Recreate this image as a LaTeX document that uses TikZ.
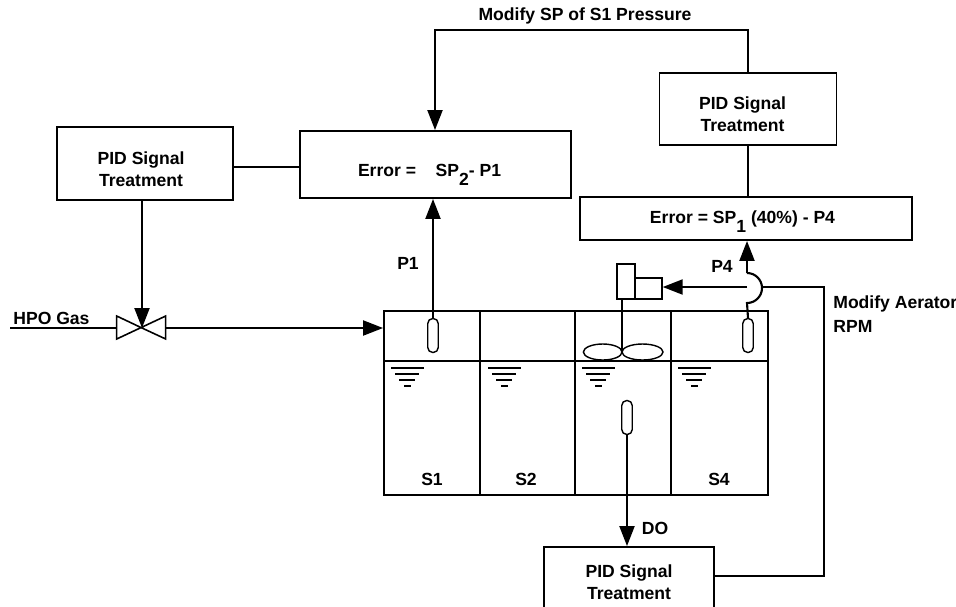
\documentclass[tikz,border=0pt]{standalone}
\usepackage{fontspec}
\setmainfont{Liberation Sans}
\usetikzlibrary{calc}
\usetikzlibrary{arrows.meta, shapes}

\newcommand{\offtext}[3]{\raisebox{#2}[\height][\depth]{#3}\hspace*{#1}}
\newcommand{\pidtext}{\renewcommand{\arraystretch}{1.04}\begin{tabular}{@{}c@{}}PID Signal\\Treatment\end{tabular}}
\newcommand{\lowsub}[1]{\smash{\raisebox{-5pt}{#1}}}

\begin{document}
\begin{tikzpicture}[x = 0.02cm, y = -0.02cm]

\tikzstyle{box}=[rectangle, draw, line width = 1.1, align = center, font = \bfseries, inner sep = 0]
\tikzstyle{label_b}=[font = \bfseries, inner sep = 0, align = left]
\tikzstyle{probe}=[rectangle, draw, line width = 0.8, rounded corners = 1mm, fill = white, minimum width = 2.1mm, minimum height = 6.8mm, inner sep = 0]
\tikzstyle{sig}=[line width = 1.2, color = black, -{Triangle[length = 4mm, width = 3mm]}]
\tikzstyle{wire}=[line width = 1.2, color = black]

\clip (0, 0) rectangle (956, 606);

\coordinate (H) at (10, 328);
\coordinate (V) at (142, 328);
\coordinate (hop) at (747, 287);
\coordinate (top) at (435, 30);
\coordinate (turn) at (824, 287);
\coordinate (hub) at (622, 352);

%boxes
\path
(145, 163.5) node[box, minimum width = 3.52cm, minimum height = 1.46cm](pid_l) {\offtext{4.5pt}{-4.5pt}{\pidtext}}
(435.5, 164.5) node[box, minimum width = 5.42cm, minimum height = 1.34cm](err_2) {\offtext{6.8pt}{-3.4pt}{Error =\ \ \ \ SP\lowsub{2}- P1}}
(748, 109) node[box, minimum width = 3.54cm, minimum height = 1.44cm](pid_t) {\offtext{6.2pt}{-4pt}{\pidtext}}
(746, 218.5) node[box, minimum width = 6.64cm, minimum height = 0.86cm](err_1) {\offtext{4pt}{-0.5pt}{Error = SP\lowsub{1} (40\%) - P4}}
(629, 582) node[box, minimum width = 3.4cm, minimum height = 1.4cm](pid_b) {\offtext{0pt}{-1.4pt}{\pidtext}}
(576, 403) node[rectangle, draw, line width = 1.1, minimum width = 7.68cm, minimum height = 3.68cm](tank) {}
(626, 281.5) node[rectangle, draw, line width = 0.8, minimum width = 0.36cm, minimum height = 0.7cm](act_a) {}
(648.5, 288.5) node[rectangle, draw, line width = 0.8, minimum width = 0.54cm, minimum height = 0.42cm](act_b) {}
(433, 335.5) node[probe](p_1) {}
(748, 335.5) node[probe](p_4) {}
(627, 417.5) node[probe](p_do) {};

%tank walls and liquid level
\draw[wire] (384, 361) -- (768, 361);
\foreach \x in {480, 575, 671}
  \draw[wire] (\x, 311) -- (\x, 495);
\foreach \x in {391, 488, 582, 678} {
  \draw[line width = 0.9] (\x, 368) -- ++(33, 0);
  \draw[line width = 0.9] ($(\x, 374) + (4, 0)$) -- ++(24, 0);
  \draw[line width = 0.9] ($(\x, 380) + (8, 0)$) -- ++(16, 0);
  \draw[line width = 0.9] ($(\x, 386) + (13, 0)$) -- ++(7, 0);
}

%aerator
\draw[wire] (act_a.south -| hub) -- (hub);
\draw[line width = 0.8] (602.7, 352) ellipse (19.3 and 8);
\draw[line width = 0.8] (642.5, 352) ellipse (20.5 and 8);

%valve
\draw[line width = 0.9] (V) -- (116.7, 316) -- (116.7, 339) -- (165.7, 316) -- (165.7, 339) -- cycle;

%labels
\path
(585, 16) node[label_b](l_sp) {Modify SP of S1 Pressure}
(408, 263) node[label_b](l_p1) {P1}
(722, 266) node[label_b](l_p4) {P4}
(13, 318) node[label_b, anchor = west](l_hpo) {HPO Gas}
(833, 304) node[label_b, anchor = west](l_rpm_a) {Modify Aerator}
(833, 326) node[label_b, anchor = west](l_rpm_b) {RPM}
(655, 528) node[label_b](l_do) {DO}
(432, 479) node[label_b](l_s1) {S1}
(526, 479) node[label_b](l_s2) {S2}
(719, 479) node[label_b](l_s4) {S4};

%straight arrow line
\draw[sig] (pid_t.north) |- (top) -- (err_2.north -| top);
\draw[sig] (p_1) -- (err_2.south -| p_1);
\draw[sig] (pid_l.south -| V) -- (V);
\draw[sig] (165.7, 328) -- (tank.west |- V);
\draw[sig] (p_do.south) -- (p_do.south |- pid_b.north);
\draw[wire] (H) -- (116.7, 328);
\draw[wire] (233, 167) -- (err_2.west |- 0, 167);
\draw[wire] (pid_t.south) -- (pid_t.south |- err_1.north);

%signal hop
\draw[wire] (p_4.north) -- (747, 303) arc[start angle = 90, end angle = -90, radius = 15];
\draw[sig] (747, 273) -- (err_1.south -| hop);
\draw[sig] (hop) -- (act_b.east |- hop);
\draw[wire] (762, 287) -- (turn) |- (pid_b.east |- 0, 576);

\end{tikzpicture}
\end{document}
